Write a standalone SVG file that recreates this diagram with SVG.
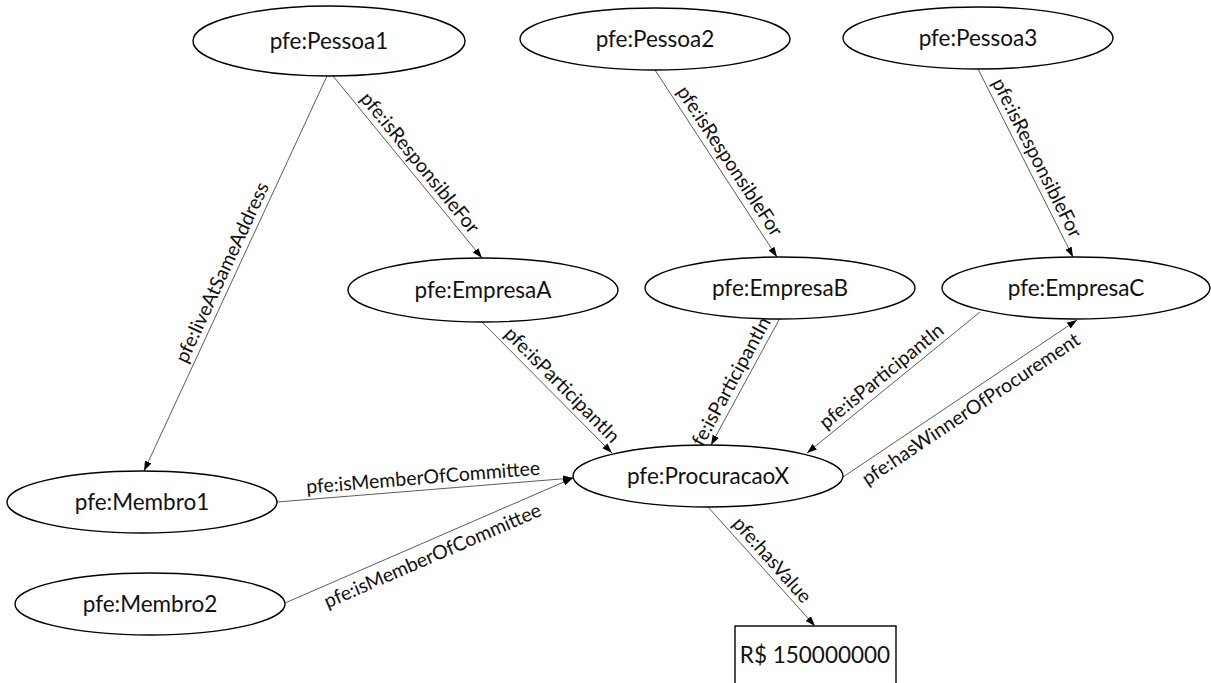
<svg xmlns="http://www.w3.org/2000/svg" width="1211" height="683" viewBox="0 0 1211 683">
  <style>
    .node { fill: #ffffff; stroke: #000000; stroke-width: 1.4; }
    .nlabel { font-family: Lato, "Open Sans", "Liberation Sans", sans-serif; font-size: 22.5px; fill: #111111; text-anchor: middle; }
    .edge { stroke: #4a4a4a; stroke-width: 0.9; fill: none; marker-end: url(#arrow); }
    .elabel { font-family: Lato, "Open Sans", "Liberation Sans", sans-serif; font-size: 19.5px; fill: #111111; text-anchor: middle; }
  </style>
  <defs>
    <marker id="arrow" markerUnits="userSpaceOnUse" markerWidth="11" markerHeight="8" refX="10" refY="3.5" orient="auto">
      <path d="M0,0 L10,3.5 L0,7 z" fill="#000000"/>
    </marker>
  </defs>
  <rect width="1211" height="683" fill="#ffffff"/>

  <!-- connectors -->
  <g id="connectors">
    <line class="edge" x1="327" y1="76" x2="144" y2="471"/>
    <line class="edge" x1="333" y1="76" x2="482" y2="258"/>
    <line class="edge" x1="655" y1="70" x2="777" y2="257"/>
    <line class="edge" x1="978" y1="69" x2="1073" y2="257"/>
    <line class="edge" x1="482" y1="322" x2="612" y2="453"/>
    <line class="edge" x1="780" y1="318" x2="711" y2="445"/>
    <line class="edge" x1="980" y1="312" x2="807" y2="453"/>
    <line class="edge" x1="843" y1="477" x2="1077" y2="320"/>
    <line class="edge" x1="277" y1="502" x2="573" y2="478"/>
    <line class="edge" x1="285" y1="603" x2="573" y2="478"/>
    <line class="edge" x1="708" y1="507" x2="815" y2="626"/>

    <text class="elabel" transform="translate(233.5,277.7) rotate(-65.1)" y="-6">pfe:liveAtSameAddress</text>
    <text class="elabel" transform="translate(410.1,170.7) rotate(50.8)" y="-6">pfe:isResponsibleFor</text>
    <text class="elabel" transform="translate(719.3,168) rotate(56.7)" y="-6">pfe:isResponsibleFor</text>
    <text class="elabel" transform="translate(1025.8,163.6) rotate(63.2)" y="-6">pfe:isResponsibleFor</text>
    <text class="elabel" transform="translate(553.2,393.8) rotate(45.2)" y="-6">pfe:isParticipantIn</text>
    <text class="elabel" transform="translate(739.6,392.2) rotate(-61.5)" y="-6">pfe:isParticipantIn</text>
    <text class="elabel" transform="translate(889.4,385.9) rotate(-39.2)" y="-6">pfe:isParticipantIn</text>
    <text class="elabel" transform="translate(962.8,397.1) rotate(-33.7)" y="21">pfe:hasWinnerOfProcurement</text>
    <text class="elabel" transform="translate(424.1,490.1) rotate(-4.64)" y="-6">pfe:isMemberOfCommittee</text>
    <text class="elabel" transform="translate(426.4,541.6) rotate(-23.46)" y="22">pfe:isMemberOfCommittee</text>
    <text class="elabel" transform="translate(762.7,568.3) rotate(48.3)" y="-6">pfe:hasValue</text>
  </g>

  <!-- nodes -->
  <g id="pessoa1">
    <ellipse class="node" cx="329" cy="41" rx="136" ry="35"/>
    <text class="nlabel" x="329" y="49">pfe:Pessoa1</text>
  </g>
  <g id="pessoa2">
    <ellipse class="node" cx="655" cy="39" rx="135" ry="31"/>
    <text class="nlabel" x="655" y="47">pfe:Pessoa2</text>
  </g>
  <g id="pessoa3">
    <ellipse class="node" cx="978" cy="38" rx="135" ry="31"/>
    <text class="nlabel" x="978" y="46">pfe:Pessoa3</text>
  </g>
  <g id="empresaA">
    <ellipse class="node" cx="483" cy="290" rx="135" ry="32"/>
    <text class="nlabel" x="483" y="298">pfe:EmpresaA</text>
  </g>
  <g id="empresaB">
    <ellipse class="node" cx="780" cy="288" rx="135" ry="31"/>
    <text class="nlabel" x="780" y="296">pfe:EmpresaB</text>
  </g>
  <g id="empresaC">
    <ellipse class="node" cx="1076" cy="288" rx="134" ry="31"/>
    <text class="nlabel" x="1076" y="296">pfe:EmpresaC</text>
  </g>
  <g id="procuracaoX">
    <ellipse class="node" cx="708" cy="476" rx="135" ry="31"/>
    <text class="nlabel" x="708" y="484">pfe:ProcuracaoX</text>
  </g>
  <g id="membro1">
    <ellipse class="node" cx="142" cy="502" rx="135" ry="31"/>
    <text class="nlabel" x="142" y="510">pfe:Membro1</text>
  </g>
  <g id="membro2">
    <ellipse class="node" cx="150" cy="604" rx="135" ry="31"/>
    <text class="nlabel" x="150" y="612">pfe:Membro2</text>
  </g>
  <g id="value">
    <rect class="node" x="735" y="626" width="161" height="70"/>
    <text class="nlabel" x="815" y="663">R$ 150000000</text>
  </g>
</svg>
